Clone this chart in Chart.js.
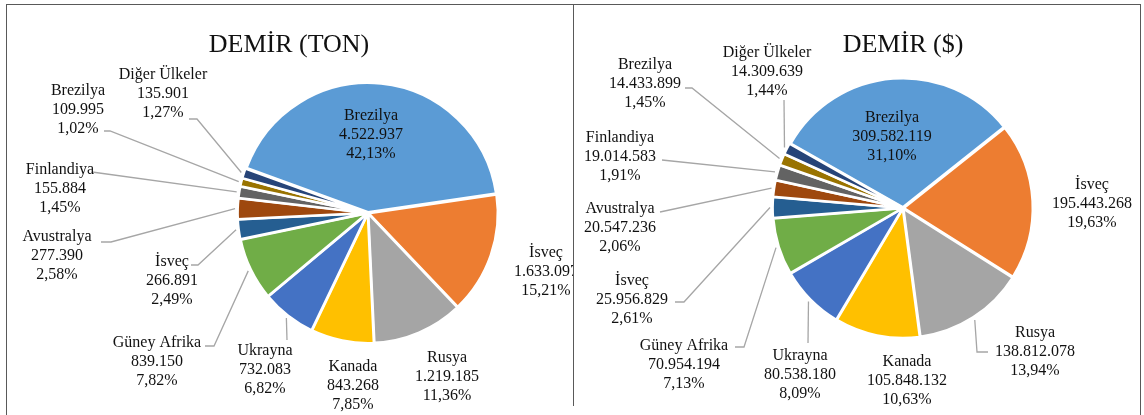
<!DOCTYPE html>
<html>
<head>
<meta charset="utf-8">
<script src="https://cdn.jsdelivr.net/npm/chart.js@4.4.1/dist/chart.umd.min.js"></script>
<style>
body { margin: 0; background: #fff; }
#wrap { position: relative; width: 1144px; height: 415px; overflow: hidden; }
canvas { position: absolute; top: 0; }
#leftChart { left: 0; }
#rightChart { left: 573px; }
.frame { position: absolute; background: #595959; }
</style>
</head>
<body>
<div id="wrap">
  <canvas id="leftChart" width="573" height="415"></canvas>
  <canvas id="rightChart" width="571" height="415"></canvas>
  <div class="frame" style="left:6px;top:4px;width:1135px;height:1px"></div>
  <div class="frame" style="left:6px;top:4px;width:1px;height:411px"></div>
  <div class="frame" style="left:573px;top:4px;width:1px;height:402px"></div>
  <div class="frame" style="left:1140px;top:4px;width:1px;height:411px"></div>
</div>
<script>
"use strict";
const countries = ["Brezilya", "İsveç", "Rusya", "Kanada", "Ukrayna", "Güney Afrika", "İsveç", "Avustralya", "Finlandiya", "Brezilya", "Diğer Ülkeler"];
const tonValues = [4522937, 1633097, 1219185, 843268, 732083, 839150, 266891, 277390, 155884, 109995, 135901];
const dollarValues = [309582119, 195443268, 138812078, 105848132, 80538180, 70954194, 25956829, 20547236, 19014583, 14433899, 14309639];
const sliceColors = ["#5B9BD5", "#ED7D31", "#A5A5A5", "#FFC000", "#4472C4", "#70AD47", "#255E91", "#9E480E", "#636363", "#997300", "#264478"];

// label placement (canvas px): first line centre, and leader points from the label toward the slice
const leftLayout = {
    title: "DEMİR (TON)",
    titleX: 289,
    labels: [[371, 116], [546, 253], [447, 358], [353, 367], [265, 351], [157, 343], [172, 262], [57, 237], [60, 170], [78, 91], [163, 75]],
    leaders: [null, null, null, null, [[287, 340]], [[205, 346], [214, 346]], [[191, 265], [198, 265]], [[101, 242], [111, 242]], [[92, 172]], [[104, 131], [110, 131]], [[189, 119], [197, 119]]],
};
const rightLayout = {
    title: "DEMİR ($)",
    titleX: 330,
    labels: [[319, 118], [519, 185], [462, 333], [334, 362], [227, 356], [111, 346], [59, 281], [47, 209], [47, 138], [72, 65], [194, 53]],
    leaders: [null, null, [[415, 352], [404, 352]], null, [[235, 343]], [[162, 347], [171, 347]], [[102, 302], [111, 302]], [[87, 212]], [[89, 160]], [[112, 88], [119, 88]], [[211, 100]]],
};

function formatNumber(v) {
    return String(v).replace(/\B(?=(\d{3})+(?!\d))/g, ".");
}

function makeLabelPlugin(layout, values) {
    const total = values.reduce((a, b) => a + b, 0);
    return {
        id: "sliceLabels",
        afterDatasetsDraw(chart) {
            const ctx = chart.ctx;
            const arcs = chart.getDatasetMeta(0).data;
            ctx.save();
            ctx.fillStyle = "#111";
            ctx.font = "26px 'Liberation Serif'";
            ctx.textAlign = "center";
            ctx.textBaseline = "alphabetic";
            ctx.fillText(layout.title, layout.titleX, 52);

            // leader lines
            ctx.strokeStyle = "#a6a6a6";
            ctx.lineWidth = 1.3;
            arcs.forEach((arc, i) => {
                const pts = layout.leaders[i];
                if (!pts) return;
                const p = arc.getProps(["x", "y", "startAngle", "endAngle", "outerRadius"], true);
                const mid = (p.startAngle + p.endAngle) / 2;
                const r = p.outerRadius + 4;
                ctx.beginPath();
                ctx.moveTo(pts[0][0], pts[0][1]);
                for (let k = 1; k < pts.length; k++) ctx.lineTo(pts[k][0], pts[k][1]);
                ctx.lineTo(p.x + Math.cos(mid) * r, p.y + Math.sin(mid) * r);
                ctx.stroke();
            });

            // text
            ctx.fillStyle = "#111";
            ctx.font = "16px 'Liberation Serif'";
            ctx.textBaseline = "middle";
            values.forEach((v, i) => {
                const [x, y] = layout.labels[i];
                const pct = (v / total * 100).toFixed(2).replace(".", ",") + "%";
                ctx.fillText(countries[i], x, y);
                ctx.fillText(formatNumber(v), x, y + 19);
                ctx.fillText(pct, x, y + 38);
            });
            ctx.restore();
        },
    };
}

function makeConfig(values, rotation, padding, layout) {
    return {
        type: "pie",
        data: {
            labels: countries,
            datasets: [
                {
                    data: values,
                    backgroundColor: sliceColors,
                    borderColor: "#ffffff",
                    borderWidth: 2.5,
                    offset: 3,
                },
            ],
        },
        options: {
            responsive: false,
            devicePixelRatio: 1,
            animation: false,
            events: [],
            rotation: rotation,
            radius: 129,
            layout: { padding: padding },
            plugins: {
                legend: { display: false },
                tooltip: { enabled: false },
            },
        },
        plugins: [makeLabelPlugin(layout, values)],
    };
}

new Chart(document.querySelector("#leftChart"), makeConfig(tonValues, -70, { left: 170, right: 7, top: 11, bottom: 0 }, leftLayout));
new Chart(document.querySelector("#rightChart"), makeConfig(dollarValues, -60.4, { left: 95, right: 6, top: 1, bottom: 0 }, rightLayout));
</script>
</body>
</html>
